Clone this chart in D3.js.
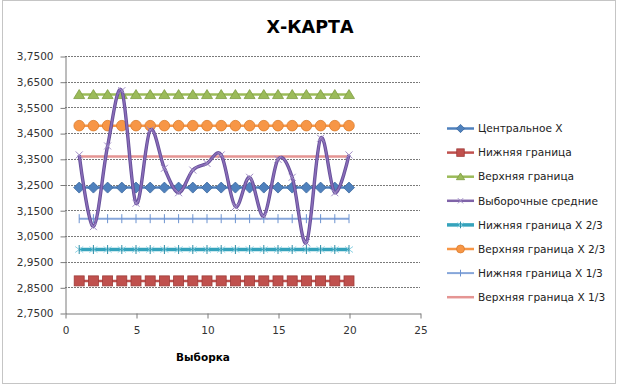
<!DOCTYPE html>
<html>
<head>
<meta charset="utf-8">
<script src="https://cdn.jsdelivr.net/npm/d3@7"></script>
<style>
  body { margin: 0; background: #fff; }
  text { font-family: "DejaVu Sans", sans-serif; }
</style>
</head>
<body>
<script>
// номера выборок и выборочные средние
const samples = [1, 2, 3, 4, 5, 6, 7, 8, 9, 10, 11, 12, 13, 14, 15, 16, 17, 18, 19, 20];
const sampleMeans = [3.365, 3.086, 3.400, 3.615, 3.177, 3.462, 3.313, 3.218, 3.306, 3.332,
                     3.365, 3.164, 3.278, 3.127, 3.348, 3.278, 3.024, 3.430, 3.218, 3.365];

// границы (постоянные линии)
const centerX = 3.238;
const lowerLimit = 2.875;
const upperLimit = 3.600;
const lowerTwoThirds = 2.997;
const upperTwoThirds = 3.479;
const lowerOneThird = 3.117;
const upperOneThird = 3.359;

const seriesNames = ["Центральное Х", "Нижняя граница", "Верхняя граница", "Выборочные средние",
                     "Нижняя граница Х 2/3", "Верхняя граница Х 2/3", "Нижняя граница Х 1/3", "Верхняя граница Х 1/3"];
const yTicks = [2.75, 2.85, 2.95, 3.05, 3.15, 3.25, 3.35, 3.45, 3.55, 3.65, 3.75];
const xTicks = [0, 5, 10, 15, 20, 25];

const W = 618, H = 385;
const svg = d3.select("body").append("svg").attr("width", W).attr("height", H);

// рамка диаграммы
svg.append("rect")
  .attr("x", 2.5).attr("y", 0.5).attr("width", 613).attr("height", 383)
  .attr("fill", "#fff").attr("stroke", "#8a8a8a").attr("stroke-dasharray", "1,1");

const x = d3.scaleLinear().domain([0, 25]).range([65, 420]);
const y = d3.scaleLinear().domain([2.75, 3.75]).range([313, 56]);
const fmt = v => d3.format(".4f")(v).replace(".", ",");

// сетка
svg.append("g").selectAll("line").data(yTicks.slice(1)).join("line")
  .attr("x1", x(0)).attr("x2", x(25))
  .attr("y1", d => Math.round(y(d)) + 0.5).attr("y2", d => Math.round(y(d)) + 0.5)
  .attr("stroke", "#7a7a7a").attr("stroke-dasharray", "2,1");

const yAxis = svg.append("g").attr("transform", `translate(${x(0) + 0.5},0.5)`)
  .call(d3.axisLeft(y).tickValues(yTicks).tickFormat(fmt).tickSize(5).tickSizeOuter(0).tickPadding(7));
const xAxis = svg.append("g").attr("transform", `translate(0.5,${y(2.75) + 0.5})`)
  .call(d3.axisBottom(x).tickValues(xTicks).tickSize(5).tickSizeOuter(0).tickPadding(8));
[yAxis, xAxis].forEach(a => {
  a.select(".domain").attr("stroke", "#7a7a7a");
  a.selectAll(".tick line").attr("stroke", "#7a7a7a");
  a.selectAll("text").attr("font-size", 10.5).attr("fill", "#333").attr("font-family", "DejaVu Sans");
});

// маркеры
const markers = {
  diamond: (g, s, c) => g.append("path").attr("d", `M0,${-5.5*s}L${5.5*s},0L0,${5.5*s}L${-5.5*s},0Z`)
    .attr("fill", c.fill).attr("stroke", c.stroke).attr("stroke-width", 0.8),
  square: (g, s, c) => g.append("rect").attr("x", -5*s).attr("y", -5*s).attr("width", 10*s).attr("height", 10*s)
    .attr("fill", c.fill).attr("stroke", c.stroke).attr("stroke-width", 0.8),
  triangle: (g, s, c) => g.append("path").attr("d", `M0,${-5*s}L${5.5*s},${4*s}L${-5.5*s},${4*s}Z`)
    .attr("fill", c.fill).attr("stroke", c.stroke).attr("stroke-width", 0.8),
  circle: (g, s, c) => g.append("circle").attr("r", 5.3*s)
    .attr("fill", c.fill).attr("stroke", c.stroke).attr("stroke-width", 0.8),
  cross: (g, s, c) => g.append("path").attr("d", `M${-3.5*s},${-3.5*s}L${3.5*s},${3.5*s}M${-3.5*s},${3.5*s}L${3.5*s},${-3.5*s}`)
    .attr("stroke", c.fill).attr("stroke-width", 1),
  star: (g, s, c) => {
    g.append("path").attr("d", `M${-4*s},${-3*s}L${4*s},${3*s}M${-4*s},${3*s}L${4*s},${-3*s}`)
      .attr("stroke", c.fill).attr("stroke-width", 1);
    g.append("path").attr("d", `M0,${-4.5*s}L0,${4.5*s}`).attr("stroke", c.stroke).attr("stroke-width", 1);
  },
  plus: (g, s, c) => g.append("path").attr("d", `M0,${-4.5*s}L0,${4.5*s}`)
    .attr("stroke", c.fill).attr("stroke-width", 1),
  none: () => {}
};

const styles = [
  { line: "#4F81BD", w: 2.5, marker: "diamond", fill: "#4F81BD", stroke: "#3A679E" },
  { line: "#C0504D", w: 2.5, marker: "square", fill: "#C0504D", stroke: "#9E3B39" },
  { line: "#9BBB59", w: 2.5, marker: "triangle", fill: "#9BBB59", stroke: "#7E9C43" },
  { line: "#7F63A8", w: 3, marker: "cross", fill: "#A08CC6", stroke: "#A08CC6" },
  { line: "#35A3BC", w: 3.5, marker: "star", fill: "#8FD3E4", stroke: "#2E8FA8" },
  { line: "#F79646", w: 2.5, marker: "circle", fill: "#F79646", stroke: "#DB7D2E" },
  { line: "#86A6DA", w: 2, marker: "plus", fill: "#6D93D0", stroke: "#6D93D0" },
  { line: "#E59593", w: 2.5, marker: "none", fill: "#E59593", stroke: "#E59593" }
];

const constantLines = [centerX, lowerLimit, upperLimit, null, lowerTwoThirds, upperTwoThirds, lowerOneThird, upperOneThird];
const lineGen = d3.line().x(d => x(d[0])).y(d => y(d[1]));

function drawSeries(i, pts) {
  const st = styles[i];
  const g = svg.append("g");
  if (i === 3) {
    const smooth = d3.line().x(d => x(d[0])).y(d => y(d[1])).curve(d3.curveCatmullRom.alpha(0));
    g.append("path").attr("d", smooth(pts)).attr("fill", "none").attr("stroke", "#65509A").attr("stroke-width", 3.4);
    g.append("path").attr("d", smooth(pts)).attr("fill", "none").attr("stroke", "#8A6CB8").attr("stroke-width", 1.6);
  } else {
    g.append("path").attr("d", lineGen(pts)).attr("fill", "none").attr("stroke", st.line).attr("stroke-width", st.w);
  }
  pts.forEach(p => {
    const m = g.append("g").attr("transform", `translate(${x(p[0])},${y(p[1])})`);
    markers[st.marker](m, 1, st);
  });
}

[0, 1, 2, 4, 5, 6, 7].forEach(i => drawSeries(i, samples.map(s => [s, constantLines[i]])));
drawSeries(3, samples.map((s, k) => [s, sampleMeans[k]]));

// легенда
const legend = svg.append("g");
seriesNames.forEach((name, i) => {
  const st = styles[i];
  const ly = 128.5 + i * 24.1;
  const row = legend.append("g").attr("transform", `translate(0,${ly})`);
  row.append("line").attr("x1", 447).attr("x2", 474).attr("y1", 0).attr("y2", 0)
    .attr("stroke", st.line).attr("stroke-width", i === 3 ? 2.5 : st.w);
  const m = row.append("g").attr("transform", "translate(460.5,0)");
  markers[st.marker](m, 0.75, st);
  row.append("text").attr("x", 478).attr("y", 0).attr("dy", "0.35em")
    .attr("font-size", 10.6).attr("fill", "#222").text(name);
});

// заголовки
svg.append("text").attr("x", 310).attr("y", 33).attr("text-anchor", "middle")
  .attr("font-size", 17.5).attr("font-weight", "bold").attr("fill", "#000").text("Х-КАРТА");
svg.append("text").attr("x", 203).attr("y", 361).attr("text-anchor", "middle")
  .attr("font-size", 10.5).attr("font-weight", "bold").attr("fill", "#000").text("Выборка");
</script>
</body>
</html>
